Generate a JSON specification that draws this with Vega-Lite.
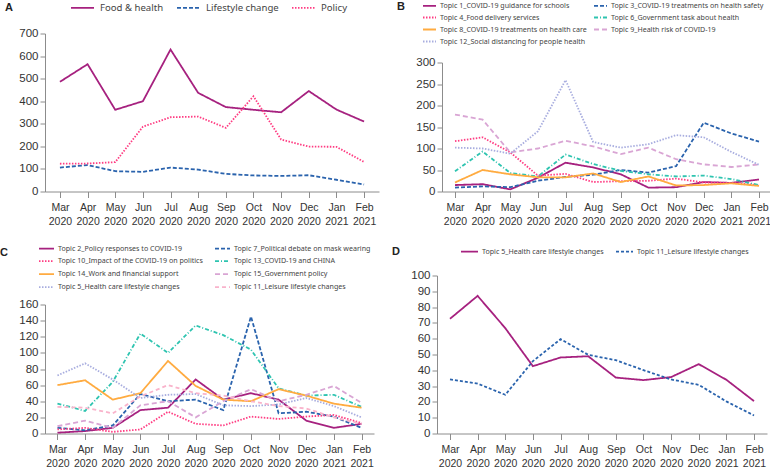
{
  "$schema": "https://vega.github.io/schema/vega-lite/v6.json",
  "padding": {"left": 0, "top": -5.5, "right": 0, "bottom": 0},
  "background": "white",
  "config": {
    "view": {"stroke": null},
    "axis": {"domainColor": "#8c8c8c", "tickColor": "#8c8c8c", "labelColor": "#333333", "grid": false, "title": null, "labelFont": "Liberation Sans", "domainWidth": 1, "tickWidth": 1},
    "axisX": {"labelAngle": 0, "labelFontSize": 10.5, "tickSize": 6, "labelPadding": 5, "labelLineHeight": 14},
    "axisY": {"labelFontSize": 11.5, "tickSize": 5, "labelPadding": 2},
    "legend": {"padding": 0, "labelFont": "Noto Sans", "labelColor": "#444444", "symbolType": "stroke", "title": null, "symbolStrokeWidth": 1.8},
    "title": {"font": "Liberation Sans", "fontWeight": "bold", "fontSize": 11, "color": "#222222", "anchor": "start", "frame": "group", "offset": 0, "baseline": "alphabetic"},
    "line": {"strokeWidth": 1.8}
  },
  "datasets": {
    "a": [
      {"m": "Mar 2020", "s": "Food & health", "v": 486}, {"m": "Apr 2020", "s": "Food & health", "v": 564}, {"m": "May 2020", "s": "Food & health", "v": 362}, {"m": "Jun 2020", "s": "Food & health", "v": 400}, {"m": "Jul 2020", "s": "Food & health", "v": 629}, {"m": "Aug 2020", "s": "Food & health", "v": 437}, {"m": "Sep 2020", "s": "Food & health", "v": 374}, {"m": "Oct 2020", "s": "Food & health", "v": 362}, {"m": "Nov 2020", "s": "Food & health", "v": 351}, {"m": "Dec 2020", "s": "Food & health", "v": 445}, {"m": "Jan 2021", "s": "Food & health", "v": 363}, {"m": "Feb 2021", "s": "Food & health", "v": 310},
      {"m": "Mar 2020", "s": "Lifestyle change", "v": 106}, {"m": "Apr 2020", "s": "Lifestyle change", "v": 117}, {"m": "May 2020", "s": "Lifestyle change", "v": 90}, {"m": "Jun 2020", "s": "Lifestyle change", "v": 87}, {"m": "Jul 2020", "s": "Lifestyle change", "v": 106}, {"m": "Aug 2020", "s": "Lifestyle change", "v": 97}, {"m": "Sep 2020", "s": "Lifestyle change", "v": 78}, {"m": "Oct 2020", "s": "Lifestyle change", "v": 71}, {"m": "Nov 2020", "s": "Lifestyle change", "v": 69}, {"m": "Dec 2020", "s": "Lifestyle change", "v": 72}, {"m": "Jan 2021", "s": "Lifestyle change", "v": 52}, {"m": "Feb 2021", "s": "Lifestyle change", "v": 31},
      {"m": "Mar 2020", "s": "Policy", "v": 123}, {"m": "Apr 2020", "s": "Policy", "v": 124}, {"m": "May 2020", "s": "Policy", "v": 130}, {"m": "Jun 2020", "s": "Policy", "v": 287}, {"m": "Jul 2020", "s": "Policy", "v": 329}, {"m": "Aug 2020", "s": "Policy", "v": 332}, {"m": "Sep 2020", "s": "Policy", "v": 282}, {"m": "Oct 2020", "s": "Policy", "v": 422}, {"m": "Nov 2020", "s": "Policy", "v": 230}, {"m": "Dec 2020", "s": "Policy", "v": 199}, {"m": "Jan 2021", "s": "Policy", "v": 198}, {"m": "Feb 2021", "s": "Policy", "v": 131}
    ],
    "b": [
      {"m": "Mar 2020", "s": "Topic 1_COVID-19 guidance for schools", "v": 15}, {"m": "Apr 2020", "s": "Topic 1_COVID-19 guidance for schools", "v": 17}, {"m": "May 2020", "s": "Topic 1_COVID-19 guidance for schools", "v": 5}, {"m": "Jun 2020", "s": "Topic 1_COVID-19 guidance for schools", "v": 32}, {"m": "Jul 2020", "s": "Topic 1_COVID-19 guidance for schools", "v": 67}, {"m": "Aug 2020", "s": "Topic 1_COVID-19 guidance for schools", "v": 56}, {"m": "Sep 2020", "s": "Topic 1_COVID-19 guidance for schools", "v": 40}, {"m": "Oct 2020", "s": "Topic 1_COVID-19 guidance for schools", "v": 9}, {"m": "Nov 2020", "s": "Topic 1_COVID-19 guidance for schools", "v": 10}, {"m": "Dec 2020", "s": "Topic 1_COVID-19 guidance for schools", "v": 22}, {"m": "Jan 2021", "s": "Topic 1_COVID-19 guidance for schools", "v": 20}, {"m": "Feb 2021", "s": "Topic 1_COVID-19 guidance for schools", "v": 28},
      {"m": "Mar 2020", "s": "Topic 3_COVID-19 treatments on health safety", "v": 9}, {"m": "Apr 2020", "s": "Topic 3_COVID-19 treatments on health safety", "v": 12}, {"m": "May 2020", "s": "Topic 3_COVID-19 treatments on health safety", "v": 10}, {"m": "Jun 2020", "s": "Topic 3_COVID-19 treatments on health safety", "v": 25}, {"m": "Jul 2020", "s": "Topic 3_COVID-19 treatments on health safety", "v": 34}, {"m": "Aug 2020", "s": "Topic 3_COVID-19 treatments on health safety", "v": 39}, {"m": "Sep 2020", "s": "Topic 3_COVID-19 treatments on health safety", "v": 50}, {"m": "Oct 2020", "s": "Topic 3_COVID-19 treatments on health safety", "v": 44}, {"m": "Nov 2020", "s": "Topic 3_COVID-19 treatments on health safety", "v": 59}, {"m": "Dec 2020", "s": "Topic 3_COVID-19 treatments on health safety", "v": 160}, {"m": "Jan 2021", "s": "Topic 3_COVID-19 treatments on health safety", "v": 135}, {"m": "Feb 2021", "s": "Topic 3_COVID-19 treatments on health safety", "v": 116},
      {"m": "Mar 2020", "s": "Topic 4_Food delivery services", "v": 117}, {"m": "Apr 2020", "s": "Topic 4_Food delivery services", "v": 126}, {"m": "May 2020", "s": "Topic 4_Food delivery services", "v": 91}, {"m": "Jun 2020", "s": "Topic 4_Food delivery services", "v": 37}, {"m": "Jul 2020", "s": "Topic 4_Food delivery services", "v": 41}, {"m": "Aug 2020", "s": "Topic 4_Food delivery services", "v": 22}, {"m": "Sep 2020", "s": "Topic 4_Food delivery services", "v": 24}, {"m": "Oct 2020", "s": "Topic 4_Food delivery services", "v": 25}, {"m": "Nov 2020", "s": "Topic 4_Food delivery services", "v": 30}, {"m": "Dec 2020", "s": "Topic 4_Food delivery services", "v": 21}, {"m": "Jan 2021", "s": "Topic 4_Food delivery services", "v": 20}, {"m": "Feb 2021", "s": "Topic 4_Food delivery services", "v": 15},
      {"m": "Mar 2020", "s": "Topic 6_Government task about health", "v": 47}, {"m": "Apr 2020", "s": "Topic 6_Government task about health", "v": 93}, {"m": "May 2020", "s": "Topic 6_Government task about health", "v": 43}, {"m": "Jun 2020", "s": "Topic 6_Government task about health", "v": 35}, {"m": "Jul 2020", "s": "Topic 6_Government task about health", "v": 86}, {"m": "Aug 2020", "s": "Topic 6_Government task about health", "v": 64}, {"m": "Sep 2020", "s": "Topic 6_Government task about health", "v": 48}, {"m": "Oct 2020", "s": "Topic 6_Government task about health", "v": 40}, {"m": "Nov 2020", "s": "Topic 6_Government task about health", "v": 35}, {"m": "Dec 2020", "s": "Topic 6_Government task about health", "v": 37}, {"m": "Jan 2021", "s": "Topic 6_Government task about health", "v": 29}, {"m": "Feb 2021", "s": "Topic 6_Government task about health", "v": 15},
      {"m": "Mar 2020", "s": "Topic 8_COVID-19 treatments on health care", "v": 21}, {"m": "Apr 2020", "s": "Topic 8_COVID-19 treatments on health care", "v": 50}, {"m": "May 2020", "s": "Topic 8_COVID-19 treatments on health care", "v": 40}, {"m": "Jun 2020", "s": "Topic 8_COVID-19 treatments on health care", "v": 33}, {"m": "Jul 2020", "s": "Topic 8_COVID-19 treatments on health care", "v": 33}, {"m": "Aug 2020", "s": "Topic 8_COVID-19 treatments on health care", "v": 42}, {"m": "Sep 2020", "s": "Topic 8_COVID-19 treatments on health care", "v": 22}, {"m": "Oct 2020", "s": "Topic 8_COVID-19 treatments on health care", "v": 35}, {"m": "Nov 2020", "s": "Topic 8_COVID-19 treatments on health care", "v": 14}, {"m": "Dec 2020", "s": "Topic 8_COVID-19 treatments on health care", "v": 15}, {"m": "Jan 2021", "s": "Topic 8_COVID-19 treatments on health care", "v": 19}, {"m": "Feb 2021", "s": "Topic 8_COVID-19 treatments on health care", "v": 13},
      {"m": "Mar 2020", "s": "Topic 9_Health risk of COVID-19", "v": 179}, {"m": "Apr 2020", "s": "Topic 9_Health risk of COVID-19", "v": 167}, {"m": "May 2020", "s": "Topic 9_Health risk of COVID-19", "v": 91}, {"m": "Jun 2020", "s": "Topic 9_Health risk of COVID-19", "v": 100}, {"m": "Jul 2020", "s": "Topic 9_Health risk of COVID-19", "v": 118}, {"m": "Aug 2020", "s": "Topic 9_Health risk of COVID-19", "v": 105}, {"m": "Sep 2020", "s": "Topic 9_Health risk of COVID-19", "v": 87}, {"m": "Oct 2020", "s": "Topic 9_Health risk of COVID-19", "v": 102}, {"m": "Nov 2020", "s": "Topic 9_Health risk of COVID-19", "v": 75}, {"m": "Dec 2020", "s": "Topic 9_Health risk of COVID-19", "v": 63}, {"m": "Jan 2021", "s": "Topic 9_Health risk of COVID-19", "v": 57}, {"m": "Feb 2021", "s": "Topic 9_Health risk of COVID-19", "v": 63},
      {"m": "Mar 2020", "s": "Topic 12_Social distancing for people health", "v": 102}, {"m": "Apr 2020", "s": "Topic 12_Social distancing for people health", "v": 100}, {"m": "May 2020", "s": "Topic 12_Social distancing for people health", "v": 88}, {"m": "Jun 2020", "s": "Topic 12_Social distancing for people health", "v": 140}, {"m": "Jul 2020", "s": "Topic 12_Social distancing for people health", "v": 259}, {"m": "Aug 2020", "s": "Topic 12_Social distancing for people health", "v": 115}, {"m": "Sep 2020", "s": "Topic 12_Social distancing for people health", "v": 102}, {"m": "Oct 2020", "s": "Topic 12_Social distancing for people health", "v": 110}, {"m": "Nov 2020", "s": "Topic 12_Social distancing for people health", "v": 131}, {"m": "Dec 2020", "s": "Topic 12_Social distancing for people health", "v": 126}, {"m": "Jan 2021", "s": "Topic 12_Social distancing for people health", "v": 92}, {"m": "Feb 2021", "s": "Topic 12_Social distancing for people health", "v": 62}
    ],
    "c": [
      {"m": "Mar 2020", "s": "Topic 2_Policy responses to COVID-19", "v": 1}, {"m": "Apr 2020", "s": "Topic 2_Policy responses to COVID-19", "v": 3}, {"m": "May 2020", "s": "Topic 2_Policy responses to COVID-19", "v": 7}, {"m": "Jun 2020", "s": "Topic 2_Policy responses to COVID-19", "v": 29}, {"m": "Jul 2020", "s": "Topic 2_Policy responses to COVID-19", "v": 32}, {"m": "Aug 2020", "s": "Topic 2_Policy responses to COVID-19", "v": 67}, {"m": "Sep 2020", "s": "Topic 2_Policy responses to COVID-19", "v": 42}, {"m": "Oct 2020", "s": "Topic 2_Policy responses to COVID-19", "v": 50}, {"m": "Nov 2020", "s": "Topic 2_Policy responses to COVID-19", "v": 42}, {"m": "Dec 2020", "s": "Topic 2_Policy responses to COVID-19", "v": 16}, {"m": "Jan 2021", "s": "Topic 2_Policy responses to COVID-19", "v": 7}, {"m": "Feb 2021", "s": "Topic 2_Policy responses to COVID-19", "v": 12},
      {"m": "Mar 2020", "s": "Topic 7_Political debate on mask wearing", "v": 7}, {"m": "Apr 2020", "s": "Topic 7_Political debate on mask wearing", "v": 4}, {"m": "May 2020", "s": "Topic 7_Political debate on mask wearing", "v": 10}, {"m": "Jun 2020", "s": "Topic 7_Political debate on mask wearing", "v": 49}, {"m": "Jul 2020", "s": "Topic 7_Political debate on mask wearing", "v": 40}, {"m": "Aug 2020", "s": "Topic 7_Political debate on mask wearing", "v": 42}, {"m": "Sep 2020", "s": "Topic 7_Political debate on mask wearing", "v": 29}, {"m": "Oct 2020", "s": "Topic 7_Political debate on mask wearing", "v": 145}, {"m": "Nov 2020", "s": "Topic 7_Political debate on mask wearing", "v": 25}, {"m": "Dec 2020", "s": "Topic 7_Political debate on mask wearing", "v": 27}, {"m": "Jan 2021", "s": "Topic 7_Political debate on mask wearing", "v": 21}, {"m": "Feb 2021", "s": "Topic 7_Political debate on mask wearing", "v": 7},
      {"m": "Mar 2020", "s": "Topic 10_Impact of the COVID-19 on politics", "v": 5}, {"m": "Apr 2020", "s": "Topic 10_Impact of the COVID-19 on politics", "v": 7}, {"m": "May 2020", "s": "Topic 10_Impact of the COVID-19 on politics", "v": 2}, {"m": "Jun 2020", "s": "Topic 10_Impact of the COVID-19 on politics", "v": 5}, {"m": "Jul 2020", "s": "Topic 10_Impact of the COVID-19 on politics", "v": 27}, {"m": "Aug 2020", "s": "Topic 10_Impact of the COVID-19 on politics", "v": 12}, {"m": "Sep 2020", "s": "Topic 10_Impact of the COVID-19 on politics", "v": 10}, {"m": "Oct 2020", "s": "Topic 10_Impact of the COVID-19 on politics", "v": 21}, {"m": "Nov 2020", "s": "Topic 10_Impact of the COVID-19 on politics", "v": 18}, {"m": "Dec 2020", "s": "Topic 10_Impact of the COVID-19 on politics", "v": 21}, {"m": "Jan 2021", "s": "Topic 10_Impact of the COVID-19 on politics", "v": 23}, {"m": "Feb 2021", "s": "Topic 10_Impact of the COVID-19 on politics", "v": 13},
      {"m": "Mar 2020", "s": "Topic 13_COVID-19 and CHINA", "v": 37}, {"m": "Apr 2020", "s": "Topic 13_COVID-19 and CHINA", "v": 28}, {"m": "May 2020", "s": "Topic 13_COVID-19 and CHINA", "v": 64}, {"m": "Jun 2020", "s": "Topic 13_COVID-19 and CHINA", "v": 124}, {"m": "Jul 2020", "s": "Topic 13_COVID-19 and CHINA", "v": 100}, {"m": "Aug 2020", "s": "Topic 13_COVID-19 and CHINA", "v": 134}, {"m": "Sep 2020", "s": "Topic 13_COVID-19 and CHINA", "v": 122}, {"m": "Oct 2020", "s": "Topic 13_COVID-19 and CHINA", "v": 104}, {"m": "Nov 2020", "s": "Topic 13_COVID-19 and CHINA", "v": 56}, {"m": "Dec 2020", "s": "Topic 13_COVID-19 and CHINA", "v": 47}, {"m": "Jan 2021", "s": "Topic 13_COVID-19 and CHINA", "v": 48}, {"m": "Feb 2021", "s": "Topic 13_COVID-19 and CHINA", "v": 33},
      {"m": "Mar 2020", "s": "Topic 14_Work and financial support", "v": 60}, {"m": "Apr 2020", "s": "Topic 14_Work and financial support", "v": 66}, {"m": "May 2020", "s": "Topic 14_Work and financial support", "v": 42}, {"m": "Jun 2020", "s": "Topic 14_Work and financial support", "v": 50}, {"m": "Jul 2020", "s": "Topic 14_Work and financial support", "v": 90}, {"m": "Aug 2020", "s": "Topic 14_Work and financial support", "v": 59}, {"m": "Sep 2020", "s": "Topic 14_Work and financial support", "v": 42}, {"m": "Oct 2020", "s": "Topic 14_Work and financial support", "v": 40}, {"m": "Nov 2020", "s": "Topic 14_Work and financial support", "v": 55}, {"m": "Dec 2020", "s": "Topic 14_Work and financial support", "v": 47}, {"m": "Jan 2021", "s": "Topic 14_Work and financial support", "v": 37}, {"m": "Feb 2021", "s": "Topic 14_Work and financial support", "v": 32},
      {"m": "Mar 2020", "s": "Topic 15_Government policy", "v": 9}, {"m": "Apr 2020", "s": "Topic 15_Government policy", "v": 16}, {"m": "May 2020", "s": "Topic 15_Government policy", "v": 7}, {"m": "Jun 2020", "s": "Topic 15_Government policy", "v": 35}, {"m": "Jul 2020", "s": "Topic 15_Government policy", "v": 40}, {"m": "Aug 2020", "s": "Topic 15_Government policy", "v": 20}, {"m": "Sep 2020", "s": "Topic 15_Government policy", "v": 40}, {"m": "Oct 2020", "s": "Topic 15_Government policy", "v": 55}, {"m": "Nov 2020", "s": "Topic 15_Government policy", "v": 40}, {"m": "Dec 2020", "s": "Topic 15_Government policy", "v": 48}, {"m": "Jan 2021", "s": "Topic 15_Government policy", "v": 59}, {"m": "Feb 2021", "s": "Topic 15_Government policy", "v": 38},
      {"m": "Mar 2020", "s": "Topic 5_Health care lifestyle changes", "v": 72}, {"m": "Apr 2020", "s": "Topic 5_Health care lifestyle changes", "v": 87}, {"m": "May 2020", "s": "Topic 5_Health care lifestyle changes", "v": 67}, {"m": "Jun 2020", "s": "Topic 5_Health care lifestyle changes", "v": 44}, {"m": "Jul 2020", "s": "Topic 5_Health care lifestyle changes", "v": 48}, {"m": "Aug 2020", "s": "Topic 5_Health care lifestyle changes", "v": 49}, {"m": "Sep 2020", "s": "Topic 5_Health care lifestyle changes", "v": 35}, {"m": "Oct 2020", "s": "Topic 5_Health care lifestyle changes", "v": 34}, {"m": "Nov 2020", "s": "Topic 5_Health care lifestyle changes", "v": 36}, {"m": "Dec 2020", "s": "Topic 5_Health care lifestyle changes", "v": 44}, {"m": "Jan 2021", "s": "Topic 5_Health care lifestyle changes", "v": 34}, {"m": "Feb 2021", "s": "Topic 5_Health care lifestyle changes", "v": 20},
      {"m": "Mar 2020", "s": "Topic 11_Leisure lifestyle changes", "v": 33}, {"m": "Apr 2020", "s": "Topic 11_Leisure lifestyle changes", "v": 32}, {"m": "May 2020", "s": "Topic 11_Leisure lifestyle changes", "v": 25}, {"m": "Jun 2020", "s": "Topic 11_Leisure lifestyle changes", "v": 46}, {"m": "Jul 2020", "s": "Topic 11_Leisure lifestyle changes", "v": 60}, {"m": "Aug 2020", "s": "Topic 11_Leisure lifestyle changes", "v": 50}, {"m": "Sep 2020", "s": "Topic 11_Leisure lifestyle changes", "v": 47}, {"m": "Oct 2020", "s": "Topic 11_Leisure lifestyle changes", "v": 40}, {"m": "Nov 2020", "s": "Topic 11_Leisure lifestyle changes", "v": 34}, {"m": "Dec 2020", "s": "Topic 11_Leisure lifestyle changes", "v": 31}, {"m": "Jan 2021", "s": "Topic 11_Leisure lifestyle changes", "v": 20}, {"m": "Feb 2021", "s": "Topic 11_Leisure lifestyle changes", "v": 12}
    ],
    "d": [
      {"m": "Mar 2020", "s": "Topic 5_Health care lifestyle changes", "v": 72.6}, {"m": "Apr 2020", "s": "Topic 5_Health care lifestyle changes", "v": 87.1}, {"m": "May 2020", "s": "Topic 5_Health care lifestyle changes", "v": 66.7}, {"m": "Jun 2020", "s": "Topic 5_Health care lifestyle changes", "v": 42.6}, {"m": "Jul 2020", "s": "Topic 5_Health care lifestyle changes", "v": 48.1}, {"m": "Aug 2020", "s": "Topic 5_Health care lifestyle changes", "v": 48.9}, {"m": "Sep 2020", "s": "Topic 5_Health care lifestyle changes", "v": 35.4}, {"m": "Oct 2020", "s": "Topic 5_Health care lifestyle changes", "v": 33.8}, {"m": "Nov 2020", "s": "Topic 5_Health care lifestyle changes", "v": 35.7}, {"m": "Dec 2020", "s": "Topic 5_Health care lifestyle changes", "v": 43.9}, {"m": "Jan 2021", "s": "Topic 5_Health care lifestyle changes", "v": 34}, {"m": "Feb 2021", "s": "Topic 5_Health care lifestyle changes", "v": 20.5},
      {"m": "Mar 2020", "s": "Topic 11_Leisure lifestyle changes", "v": 34.2}, {"m": "Apr 2020", "s": "Topic 11_Leisure lifestyle changes", "v": 31.6}, {"m": "May 2020", "s": "Topic 11_Leisure lifestyle changes", "v": 24.5}, {"m": "Jun 2020", "s": "Topic 11_Leisure lifestyle changes", "v": 45.8}, {"m": "Jul 2020", "s": "Topic 11_Leisure lifestyle changes", "v": 59.7}, {"m": "Aug 2020", "s": "Topic 11_Leisure lifestyle changes", "v": 49.8}, {"m": "Sep 2020", "s": "Topic 11_Leisure lifestyle changes", "v": 46.4}, {"m": "Oct 2020", "s": "Topic 11_Leisure lifestyle changes", "v": 40.1}, {"m": "Nov 2020", "s": "Topic 11_Leisure lifestyle changes", "v": 34.2}, {"m": "Dec 2020", "s": "Topic 11_Leisure lifestyle changes", "v": 30.8}, {"m": "Jan 2021", "s": "Topic 11_Leisure lifestyle changes", "v": 20.3}, {"m": "Feb 2021", "s": "Topic 11_Leisure lifestyle changes", "v": 11.4}
    ]
  },
  "spacing": 12,
  "resolve": {"scale": {"color": "independent", "strokeDash": "independent", "x": "independent", "y": "independent"}, "legend": {"color": "independent", "strokeDash": "independent"}},
  "vconcat": [
    {
      "spacing": 18,
      "resolve": {"scale": {"color": "independent", "strokeDash": "independent", "x": "independent", "y": "independent"}, "legend": {"color": "independent", "strokeDash": "independent"}},
      "hconcat": [
        {
          "width": 334, "height": 158,
          "data": {"name": "a"},
          "title": {"text": "A", "dx": -40, "dy": 22},
          "mark": {"type": "line", "strokeWidth": 1.8},
          "encoding": {
            "x": {"field": "m", "type": "ordinal", "sort": null, "scale": {"type": "point", "padding": 0.54}, "axis": {"labelExpr": "split(datum.label, ' ')"}},
            "y": {"field": "v", "type": "quantitative", "scale": {"domain": [0, 700], "nice": false}, "axis": {"values": [0, 100, 200, 300, 400, 500, 600, 700]}},
            "color": {"field": "s", "type": "nominal", "scale": {"domain": ["Food & health", "Lifestyle change", "Policy"], "range": ["#a6217f", "#2a63ad", "#ff3c82"]},
              "legend": {"orient": "none", "legendX": 25, "legendY": -38.5, "direction": "horizontal", "columns": 3, "labelFontSize": 9.6, "symbolSize": 529, "labelOffset": 5, "columnPadding": 9}},
            "strokeDash": {"field": "s", "type": "nominal", "scale": {"domain": ["Food & health", "Lifestyle change", "Policy"], "range": [[1, 0], [4, 2], [1.5, 1.5]]},
              "legend": {"orient": "none", "legendX": 25, "legendY": -38.5, "direction": "horizontal", "columns": 3, "labelFontSize": 9.6, "symbolSize": 529, "labelOffset": 5, "columnPadding": 9}}
          }
        },
        {
          "width": 330, "height": 158,
          "data": {"name": "b"},
          "title": {"text": "B", "dx": -45, "dy": 17.5},
          "mark": {"type": "line", "strokeWidth": 1.8},
          "encoding": {
            "x": {"field": "m", "type": "ordinal", "sort": null, "scale": {"type": "point", "padding": 0.47}, "axis": {"labelExpr": "split(datum.label, ' ')"}},
            "y": {"field": "v", "type": "quantitative", "scale": {"domain": [0, 300], "nice": false, "range": [158, 29]}, "axis": {"values": [0, 50, 100, 150, 200, 250, 300]}},
            "color": {"field": "s", "type": "nominal", "scale": {"domain": ["Topic 1_COVID-19 guidance for schools", "Topic 3_COVID-19 treatments on health safety", "Topic 4_Food delivery services", "Topic 6_Government task about health", "Topic 8_COVID-19 treatments on health care", "Topic 9_Health risk of COVID-19", "Topic 12_Social distancing for people health"], "range": ["#a6217f", "#2a63ad", "#ff3c82", "#2ec4b0", "#ffab40", "#d9a5d4", "#a8addf"]},
              "legend": {"orient": "none", "legendX": -20, "legendY": -35.5, "direction": "horizontal", "columns": 2, "labelFontSize": 7.1, "symbolSize": 169, "labelOffset": 3, "columnPadding": 3, "rowPadding": -1}},
            "strokeDash": {"field": "s", "type": "nominal", "scale": {"domain": ["Topic 1_COVID-19 guidance for schools", "Topic 3_COVID-19 treatments on health safety", "Topic 4_Food delivery services", "Topic 6_Government task about health", "Topic 8_COVID-19 treatments on health care", "Topic 9_Health risk of COVID-19", "Topic 12_Social distancing for people health"], "range": [[1, 0], [4, 2], [1.5, 1.5], [4, 2, 1, 2], [1, 0], [5, 3], [1.5, 1.5]]},
              "legend": {"orient": "none", "legendX": -20, "legendY": -35.5, "direction": "horizontal", "columns": 2, "labelFontSize": 7.1, "symbolSize": 169, "labelOffset": 3, "columnPadding": 3, "rowPadding": -1}}
          }
        }
      ]
    },
    {
      "spacing": 18,
      "resolve": {"scale": {"color": "independent", "strokeDash": "independent", "x": "independent", "y": "independent"}, "legend": {"color": "independent", "strokeDash": "independent"}},
      "hconcat": [
        {
          "width": 329, "height": 158,
          "data": {"name": "c"},
          "title": {"text": "C", "dx": -45, "dy": 22.2},
          "mark": {"type": "line", "strokeWidth": 1.8},
          "encoding": {
            "x": {"field": "m", "type": "ordinal", "sort": null, "scale": {"type": "point", "padding": 0.45}, "axis": {"labelExpr": "split(datum.label, ' ')"}},
            "y": {"field": "v", "type": "quantitative", "scale": {"domain": [0, 160], "nice": false, "range": [158, 29]}, "axis": {"values": [0, 20, 40, 60, 80, 100, 120, 140, 160]}},
            "color": {"field": "s", "type": "nominal", "scale": {"domain": ["Topic 2_Policy responses to COVID-19", "Topic 7_Political debate on mask wearing", "Topic 10_Impact of the COVID-19 on politics", "Topic 13_COVID-19 and CHINA", "Topic 14_Work and financial support", "Topic 15_Government policy", "Topic 5_Health care lifestyle changes", "Topic 11_Leisure lifestyle changes"], "range": ["#a6217f", "#2a63ad", "#ff3c82", "#2ec4b0", "#ffab40", "#d9a5d4", "#a8addf", "#f9b3cb"]},
              "legend": {"orient": "none", "legendX": -7, "legendY": -35.8, "direction": "horizontal", "columns": 2, "labelFontSize": 7.1, "symbolSize": 225, "labelOffset": 3, "columnPadding": 8, "rowPadding": -3}},
            "strokeDash": {"field": "s", "type": "nominal", "scale": {"domain": ["Topic 2_Policy responses to COVID-19", "Topic 7_Political debate on mask wearing", "Topic 10_Impact of the COVID-19 on politics", "Topic 13_COVID-19 and CHINA", "Topic 14_Work and financial support", "Topic 15_Government policy", "Topic 5_Health care lifestyle changes", "Topic 11_Leisure lifestyle changes"], "range": [[1, 0], [4, 2], [1.5, 1.5], [4, 2, 1, 2], [1, 0], [5, 3], [1.5, 1.5], [4, 3]]},
              "legend": {"orient": "none", "legendX": -7, "legendY": -35.8, "direction": "horizontal", "columns": 2, "labelFontSize": 7.1, "symbolSize": 225, "labelOffset": 3, "columnPadding": 8, "rowPadding": -3}}
          }
        },
        {
          "width": 330, "height": 158,
          "data": {"name": "d"},
          "title": {"text": "D", "dx": -45, "dy": 19.1},
          "mark": {"type": "line", "strokeWidth": 1.8},
          "encoding": {
            "x": {"field": "m", "type": "ordinal", "sort": null, "scale": {"type": "point", "padding": 0.47}, "axis": {"labelExpr": "split(datum.label, ' ')"}},
            "y": {"field": "v", "type": "quantitative", "scale": {"domain": [0, 100], "nice": false}, "axis": {"values": [0, 10, 20, 30, 40, 50, 60, 70, 80, 90, 100]}},
            "color": {"field": "s", "type": "nominal", "scale": {"domain": ["Topic 5_Health care lifestyle changes", "Topic 11_Leisure lifestyle changes"], "range": ["#a6217f", "#2a63ad"]},
              "legend": {"orient": "none", "legendX": 23, "legendY": -33.8, "direction": "horizontal", "columns": 2, "labelFontSize": 7.1, "symbolSize": 289, "labelOffset": 3, "columnPadding": 8}},
            "strokeDash": {"field": "s", "type": "nominal", "scale": {"domain": ["Topic 5_Health care lifestyle changes", "Topic 11_Leisure lifestyle changes"], "range": [[1, 0], [3, 2]]},
              "legend": {"orient": "none", "legendX": 23, "legendY": -33.8, "direction": "horizontal", "columns": 2, "labelFontSize": 7.1, "symbolSize": 289, "labelOffset": 3, "columnPadding": 8}}
          }
        }
      ]
    }
  ]
}
